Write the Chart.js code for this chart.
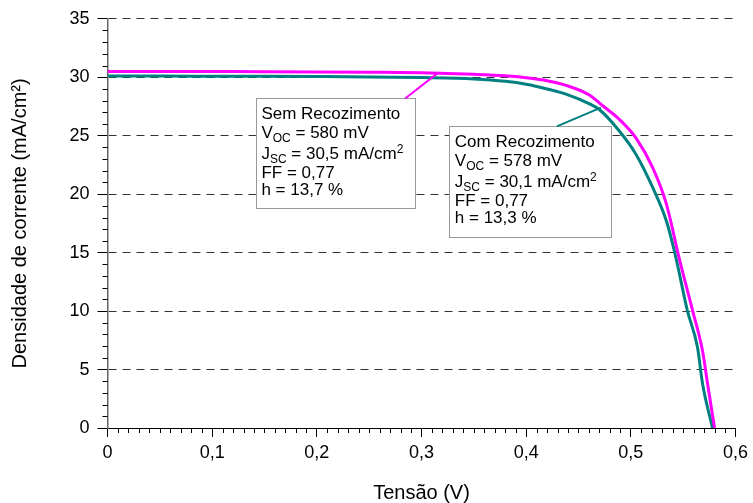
<!DOCTYPE html>
<html>
<head>
<meta charset="utf-8">
<title>Curvas J-V</title>
<script src="https://cdn.jsdelivr.net/npm/chart.js@4/dist/chart.umd.min.js"></script>
<style>
  html, body { margin: 0; padding: 0; background: #ffffff; }
  #wrap { width: 753px; height: 503px; }
</style>
</head>
<body>
<div id="wrap"><canvas id="c" width="753" height="503"></canvas></div>
<script>
// J-V curves: voltage (V) and current density (mA/cm²)
const vSem = [0, 0.05, 0.10, 0.15, 0.20, 0.25, 0.30, 0.35, 0.38, 0.40, 0.42, 0.44, 0.46, 0.474, 0.489, 0.505, 0.521, 0.534, 0.546, 0.559, 0.5685, 0.5733, 0.580];
const jSem = [30.5, 30.5, 30.49, 30.48, 30.46, 30.43, 30.38, 30.25, 30.12, 29.95, 29.7, 29.25, 28.5, 27.5, 26.4, 24.8, 22.25, 19.15, 14.6, 10.05, 6.6, 3.8, 0];

const vCom = [0, 0.05, 0.10, 0.15, 0.20, 0.25, 0.30, 0.35, 0.38, 0.40, 0.42, 0.44, 0.46, 0.4704, 0.489, 0.505, 0.521, 0.534, 0.543, 0.554, 0.5637, 0.5685, 0.578];
const jCom = [30.1, 30.1, 30.09, 30.08, 30.06, 30.03, 29.97, 29.85, 29.65, 29.4, 29.0, 28.5, 27.75, 27.2, 25.4, 23.4, 20.55, 17.7, 14.6, 10.05, 6.9, 3.8, 0];

// Parameter boxes (rich text: [text, mode] with mode '' | 'sub' | 'sup')
const semLines = [
  [['Sem Recozimento', '']],
  [['V', ''], ['OC', 'sub'], [' = 580 mV', '']],
  [['J', ''], ['SC', 'sub'], [' = 30,5 mA/cm', ''], ['2', 'sup']],
  [['FF = 0,77', '']],
  [['h = 13,7 %', '']]
];
const comLines = [
  [['Com Recozimento', '']],
  [['V', ''], ['OC', 'sub'], [' = 578 mV', '']],
  [['J', ''], ['SC', 'sub'], [' = 30,1 mA/cm', ''], ['2', 'sup']],
  [['FF = 0,77', '']],
  [['h = 13,3 %', '']]
];

const FONT = '"Liberation Sans", Arial, Helvetica, sans-serif';
const MAGENTA = '#ff00ff';
const TEAL = '#008080';

const toPoints = (xs, ys) => xs.map((v, i) => ({ x: v, y: ys[i] }));

// Box placement in data units and leader line ends
const boxes = [
  { lines: semLines, color: MAGENTA, v0: 0.1418, v1: 0.2934, jTop: 28.19, jBottom: 18.82,
    leader: [[0.2844, 28.19], [0.3164, 30.42]] },
  { lines: comLines, color: TEAL, v0: 0.3266, v1: 0.4815, jTop: 25.8, jBottom: 16.29,
    leader: [[0.4293, 25.8], [0.4715, 27.4]] }
];
const lineOffsets = [15, 34, 55, 74, 91];

const minorTicks = {
  id: 'minorTicks',
  afterDraw(chart) {
    const { ctx, scales: { x, y } } = chart;
    ctx.save();
    ctx.strokeStyle = '#000';
    ctx.lineWidth = 1;
    ctx.beginPath();
    for (let i = 1; i < 60; i++) {
      if (i % 10 === 0) continue;
      const px = Math.round(x.getPixelForValue(i / 100)) + 0.5;
      ctx.moveTo(px, y.bottom);
      ctx.lineTo(px, y.bottom + 5);
    }
    for (let j = 1; j < 35; j++) {
      if (j % 5 === 0) continue;
      const py = Math.round(y.getPixelForValue(j)) + 0.5;
      ctx.moveTo(x.left, py);
      ctx.lineTo(x.left - 5, py);
    }
    ctx.stroke();
    ctx.restore();
  }
};

const paramBoxes = {
  id: 'paramBoxes',
  afterDatasetsDraw(chart) {
    const { ctx, scales: { x, y } } = chart;
    ctx.save();
    boxes.forEach(b => {
      const left = x.getPixelForValue(b.v0);
      const right = x.getPixelForValue(b.v1);
      const top = y.getPixelForValue(b.jTop);
      const bottom = y.getPixelForValue(b.jBottom);
      ctx.fillStyle = '#ffffff';
      ctx.fillRect(left, top, right - left, bottom - top);
      ctx.strokeStyle = '#9a9a9a';
      ctx.lineWidth = 1;
      ctx.strokeRect(Math.round(left) + 0.5, Math.round(top) + 0.5, Math.round(right - left), Math.round(bottom - top));

      ctx.strokeStyle = b.color;
      ctx.lineWidth = 2;
      ctx.beginPath();
      ctx.moveTo(x.getPixelForValue(b.leader[0][0]), y.getPixelForValue(b.leader[0][1]));
      ctx.lineTo(x.getPixelForValue(b.leader[1][0]), y.getPixelForValue(b.leader[1][1]));
      ctx.stroke();

      ctx.fillStyle = '#000';
      ctx.textBaseline = 'alphabetic';
      ctx.textAlign = 'left';
      b.lines.forEach((parts, k) => {
        let tx = left + 5.5;
        const base = top + lineOffsets[k] + 6;
        parts.forEach(([txt, mode]) => {
          let dy = 0;
          if (mode === 'sub') { ctx.font = '12px ' + FONT; dy = 4; }
          else if (mode === 'sup') { ctx.font = '12px ' + FONT; dy = -6; }
          else { ctx.font = '17px ' + FONT; }
          ctx.fillText(txt, tx, base + dy);
          tx += ctx.measureText(txt).width;
        });
      });
    });
    ctx.restore();
  }
};

const fmtComma = v => {
  const r = Math.round(v * 10) / 10;
  return r === 0 ? '0' : r.toFixed(1).replace('.', ',');
};

new Chart(document.getElementById('c'), {
  type: 'scatter',
  data: {
    datasets: [
      { label: 'Sem Recozimento', data: toPoints(vSem, jSem), showLine: true,
        borderColor: MAGENTA, borderWidth: 3, pointRadius: 0,
        cubicInterpolationMode: 'monotone', fill: false },
      { label: 'Com Recozimento', data: toPoints(vCom, jCom), showLine: true,
        borderColor: TEAL, borderWidth: 3, pointRadius: 0,
        cubicInterpolationMode: 'monotone', fill: false }
    ]
  },
  options: {
    responsive: false,
    animation: false,
    layout: { padding: { top: 17, right: 13, left: 0, bottom: 0 } },
    plugins: { legend: { display: false }, tooltip: { enabled: false } },
    scales: {
      x: {
        type: 'linear', min: 0, max: 0.6,
        afterFit: s => { s.height = 75; },
        ticks: { stepSize: 0.1, callback: fmtComma, color: '#000', padding: 5,
                 font: { family: FONT, size: 18 }, maxRotation: 0 },
        grid: { drawOnChartArea: false, drawTicks: true, tickLength: 9, tickColor: '#000' },
        border: { display: true, color: '#000', width: 1 },
        title: { display: true, text: 'Tensão (V)', color: '#000',
                 font: { family: FONT, size: 20, lineHeight: 1 }, padding: { top: 0, bottom: 0 } }
      },
      y: {
        type: 'linear', min: 0, max: 35,
        afterFit: s => { s.width = 107.5; },
        ticks: { stepSize: 5, color: '#000', padding: 8,
                 font: { family: FONT, size: 18 } },
        grid: {
          drawTicks: true, tickLength: 10,
          color: ctx => (ctx.tick && ctx.tick.value === 0) ? 'rgba(0,0,0,0)' : '#333',
          tickColor: '#000', tickBorderDash: [], lineWidth: 1
        },
        border: { display: true, color: '#666', width: 1.5, dash: [8, 6] },
        title: { display: true, text: 'Densidade de corrente (mA/cm²)', color: '#000',
                 font: { family: FONT, size: 20, lineHeight: 1 }, padding: { top: 10, bottom: 0 } }
      }
    }
  },
  plugins: [minorTicks, paramBoxes]
});
</script>
</body>
</html>
